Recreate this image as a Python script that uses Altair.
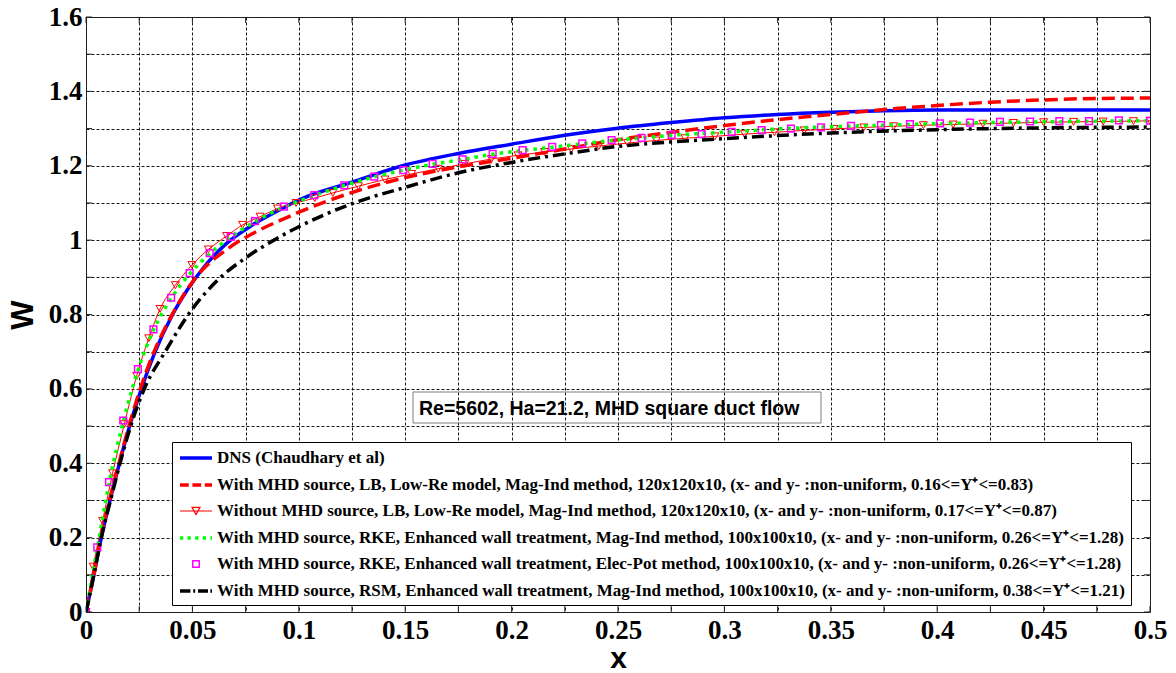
import altair as alt
import pandas as pd

# ---------------- data ----------------
dns_x = [0, 0.0037, 0.0072, 0.0113, 0.0157, 0.0205, 0.026, 0.0325, 0.0407, 0.0475, 0.0548,
         0.0658, 0.0783, 0.0909, 0.1, 0.125, 0.15, 0.175, 0.2, 0.225, 0.25, 0.275, 0.3,
         0.325, 0.35, 0.375, 0.4, 0.45, 0.5]
dns_w = [0, 0.1, 0.2, 0.3, 0.4, 0.5, 0.6, 0.7, 0.8, 0.865, 0.923,
         0.99, 1.041, 1.081, 1.108, 1.156, 1.202, 1.233, 1.258, 1.282, 1.301, 1.316, 1.329,
         1.338, 1.344, 1.348, 1.35, 1.35, 1.35]

lb_x = [0, 0.0037, 0.007, 0.011, 0.0155, 0.0202, 0.0255, 0.032, 0.040, 0.0517, 0.0674,
        0.0815, 0.094, 0.1, 0.125, 0.15, 0.175, 0.2, 0.225, 0.25, 0.275, 0.3, 0.325,
        0.35, 0.375, 0.4, 0.425, 0.45, 0.475, 0.5]
lb_w = [0, 0.1, 0.2, 0.3, 0.4, 0.5, 0.6, 0.7, 0.795, 0.9, 0.98,
        1.027, 1.06, 1.075, 1.128, 1.168, 1.197, 1.22, 1.245, 1.27, 1.29, 1.308, 1.324,
        1.338, 1.351, 1.362, 1.371, 1.377, 1.381, 1.382]

nomhd_x = [0, 0.0034, 0.0078, 0.0125, 0.018, 0.0238, 0.0295, 0.0348, 0.042, 0.0498, 0.0575,
           0.0661, 0.0736, 0.0818, 0.09, 0.0987, 0.1075, 0.116, 0.128, 0.1405, 0.153, 0.1655,
           0.178, 0.1905, 0.203, 0.2155, 0.228, 0.241, 0.2545, 0.268, 0.2815, 0.2955, 0.3095,
           0.3235, 0.3375, 0.3515, 0.3655, 0.3795, 0.3935, 0.4075, 0.4215, 0.4358, 0.45,
           0.4641, 0.478, 0.4922, 0.5]
nomhd_w = [0, 0.122, 0.245, 0.373, 0.505, 0.635, 0.736, 0.815, 0.879, 0.933, 0.975,
           1.011, 1.041, 1.063, 1.085, 1.1, 1.113, 1.127, 1.145, 1.163, 1.178, 1.192,
           1.205, 1.218, 1.228, 1.237, 1.245, 1.253, 1.261, 1.268, 1.274, 1.279, 1.285,
           1.29, 1.295, 1.299, 1.303, 1.306, 1.309, 1.311, 1.313, 1.315, 1.317,
           1.318, 1.319, 1.32, 1.321]

rke_x = [0, 0.0053, 0.0108, 0.0175, 0.0244, 0.0317, 0.040, 0.0487, 0.0581, 0.068, 0.0794,
         0.093, 0.1073, 0.1214, 0.1355, 0.1491, 0.1629, 0.177, 0.1911, 0.2052, 0.2191,
         0.2332, 0.247, 0.2611, 0.2752, 0.3, 0.325, 0.35, 0.375, 0.4, 0.425, 0.45, 0.475, 0.5]
rke_w = [0, 0.172, 0.345, 0.512, 0.65, 0.758, 0.843, 0.909, 0.963, 1.008, 1.05,
         1.089, 1.12, 1.147, 1.17, 1.188, 1.204, 1.217, 1.231, 1.241, 1.25,
         1.259, 1.268, 1.275, 1.282, 1.29, 1.299, 1.305, 1.309, 1.313, 1.316, 1.318, 1.32, 1.321]

elec_x = [0, 0.0053, 0.0108, 0.0175, 0.0244, 0.0317, 0.040, 0.0487, 0.0581, 0.068, 0.0794,
          0.093, 0.1073, 0.1214, 0.1355, 0.1491, 0.1629, 0.177, 0.1911, 0.2052, 0.2191,
          0.2332, 0.247, 0.2611, 0.2752, 0.2893, 0.3034, 0.3175, 0.3313, 0.3454, 0.3595,
          0.3736, 0.3872, 0.4013, 0.4154, 0.4295, 0.4436, 0.4574, 0.4713, 0.4854, 0.5]
elec_w = [0, 0.174, 0.349, 0.515, 0.653, 0.76, 0.845, 0.911, 0.965, 1.009, 1.051,
          1.09, 1.121, 1.147, 1.171, 1.188, 1.205, 1.217, 1.232, 1.242, 1.251,
          1.26, 1.269, 1.275, 1.283, 1.285, 1.291, 1.296, 1.3, 1.303, 1.307,
          1.309, 1.312, 1.314, 1.316, 1.318, 1.319, 1.32, 1.32, 1.322, 1.321]

rsm_x = [0, 0.0037, 0.0072, 0.0115, 0.016, 0.021, 0.0274, 0.0372, 0.05, 0.0627, 0.0752,
         0.0877, 0.1, 0.125, 0.15, 0.175, 0.2, 0.225, 0.25, 0.275, 0.3, 0.35, 0.4, 0.45, 0.5]
rsm_w = [0, 0.1, 0.2, 0.3, 0.4, 0.5, 0.6, 0.7, 0.815, 0.897, 0.953,
         0.998, 1.036, 1.098, 1.142, 1.181, 1.209, 1.232, 1.252, 1.264, 1.273, 1.288, 1.297,
         1.302, 1.304]

series_names = [
    "DNS (Chaudhary et al)",
    "With MHD source, LB, Low-Re model, Mag-Ind method, 120x120x10, (x- and y- :non-uniform, 0.16<=Y\u207a<=0.83)",
    "Without MHD source, LB, Low-Re model, Mag-Ind method, 120x120x10, (x- and y- :non-uniform, 0.17<=Y\u207a<=0.87)",
    "With MHD source, RKE, Enhanced wall treatment, Mag-Ind method, 100x100x10, (x- and y- :non-uniform, 0.26<=Y\u207a<=1.28)",
    "With MHD source, RKE, Enhanced wall treatment, Elec-Pot method, 100x100x10, (x- and y- :non-uniform, 0.26<=Y\u207a<=1.28)",
    "With MHD source, RSM, Enhanced wall treatment, Mag-Ind method, 100x100x10, (x- and y- :non-uniform, 0.38<=Y\u207a<=1.21)",
]
annotation_text = ["Re=5602, Ha=21.2, MHD square duct flow"]

x_grid = [round(i * 0.025, 3) for i in range(21)]
y_grid = [round(i * 0.1, 1) for i in range(17)]

# ---------------- styling ----------------
BLUE, RED, GREEN, MAGENTA, BLACK = "#0000ff", "#ff0000", "#00ff00", "#ff00ff", "#000000"
W, H = 1064, 595
FRAME = "#262626"

X = alt.Scale(domain=[0, 0.5], nice=False, zero=False)
Y = alt.Scale(domain=[0, 1.6], nice=False, zero=False)

xaxis = alt.Axis(
    values=x_grid, title="x", grid=True, ticks=False, domain=False,
    labelExpr="abs(datum.value*20 - round(datum.value*20)) < 1e-6 ? format(datum.value, '~g') : ''",
    labelFont="Liberation Serif", labelFontWeight="bold", labelFontSize=27, labelColor="black",
    labelPadding=5, labelFlush=False, labelOverlap=False, labelBaseline="top",
    titleFont="Liberation Sans", titleFontSize=30, titleFontWeight="bold", titleColor="black",
    titleY=55, titleBaseline="alphabetic",
    gridColor="#1a1a1a", gridDash=[3, 2], gridWidth=1, gridOpacity=1,
)
yaxis = alt.Axis(
    values=y_grid, title="W", grid=True, ticks=False, domain=False,
    labelExpr="abs(datum.value*5 - round(datum.value*5)) < 1e-6 ? format(datum.value, '~g') : ''",
    labelFont="Liberation Serif", labelFontWeight="bold", labelFontSize=27, labelColor="black",
    labelPadding=4, labelFlush=False, labelOverlap=False,
    titleFont="Liberation Sans", titleFontSize=31, titleFontWeight="bold", titleColor="black",
    titleX=-54, titleBaseline="alphabetic", titleAngle=270,
    gridColor="#1a1a1a", gridDash=[3, 2], gridWidth=1, gridOpacity=1,
)

def enc(chart):
    return chart.encode(x=alt.X("x:Q", scale=X, axis=xaxis), y=alt.Y("W:Q", scale=Y, axis=yaxis))

def line(xs, ws, **kw):
    df = pd.DataFrame({"x": xs, "W": ws})
    return enc(alt.Chart(df).mark_line(interpolate="monotone", clip=True, **kw))

def points(xs, ws, **kw):
    df = pd.DataFrame({"x": xs, "W": ws})
    return enc(alt.Chart(df).mark_point(clip=True, opacity=1, filled=False, **kw))

dns = line(dns_x, dns_w, color=BLUE, strokeWidth=3.5)
lb = line(lb_x, lb_w, color=RED, strokeWidth=3.5, strokeDash=[13, 6])
nomhd_l = line(nomhd_x, nomhd_w, color=RED, strokeWidth=1)
nomhd_p = points(nomhd_x, nomhd_w, shape="triangle-down", color=RED, size=64, strokeWidth=1)
rke = line(rke_x, rke_w, color=GREEN, strokeWidth=3.5, strokeDash=[3.5, 5])
elec = points(elec_x, elec_w, shape="square", color=MAGENTA, size=45, strokeWidth=1.5)
rsm = line(rsm_x, rsm_w, color=BLACK, strokeWidth=3.5, strokeDash=[12, 5, 3, 5])

# inward ticks on the box
xt = pd.DataFrame({"x": x_grid})
yt = pd.DataFrame({"W": y_grid})
tick_b = alt.Chart(xt).mark_rule(color=FRAME, strokeWidth=1).encode(
    x=alt.X("x:Q", scale=X, axis=xaxis), y=alt.value(H), y2=alt.value(H - 6))
tick_t = alt.Chart(xt).mark_rule(color=FRAME, strokeWidth=1).encode(
    x=alt.X("x:Q", scale=X, axis=xaxis), y=alt.value(0), y2=alt.value(6))
tick_l = alt.Chart(yt).mark_rule(color=FRAME, strokeWidth=1).encode(
    y=alt.Y("W:Q", scale=Y, axis=yaxis), x=alt.value(0), x2=alt.value(6))
tick_r = alt.Chart(yt).mark_rule(color=FRAME, strokeWidth=1).encode(
    y=alt.Y("W:Q", scale=Y, axis=yaxis), x=alt.value(W), x2=alt.value(W - 6))

# annotation box
ann_df = pd.DataFrame({"t": annotation_text})
ann_box = alt.Chart(ann_df).mark_rect(fill=None, stroke="#7f7f7f", strokeWidth=1).encode(
    x=alt.value(327), x2=alt.value(735), y=alt.value(375), y2=alt.value(406))
ann_txt = alt.Chart(ann_df).mark_text(
    align="left", baseline="alphabetic", font="Liberation Sans", fontSize=19.5,
    fontWeight="bold", color="black").encode(
    x=alt.value(333), y=alt.value(398), text="t:N")

# legend
sym_paths = [
    "M-2,0L2,0",
    "M-2,0L-0.9,0M-0.45,0L0.65,0M1.1,0L2,0",
    "M-2,0L2,0M-0.5,-0.45L0.5,-0.45L0,0.45Z",
    "M-2,0L-1.6,0M-1.05,0L-0.65,0M-0.1,0L0.3,0M0.85,0L1.25,0M1.8,0L2,0",
    "M-0.4,-0.4L0.4,-0.4L0.4,0.4L-0.4,0.4Z",
    "M-2,0L-0.7,0M-0.35,0L-0.1,0M0.25,0L1.5,0M1.8,0L2,0",
]
sym_colors = [BLUE, RED, RED, GREEN, MAGENTA, BLACK]
sym_widths = [3.5, 3.5, 1.2, 3.5, 1.5, 3.5]

leg = alt.Legend(
    title=None, orient="none", legendX=86, legendY=425, padding=6,
    fillColor="white", strokeColor="black", symbolSize=256, symbolOffset=8,
    labelOffset=11, rowPadding=9, labelFont="Liberation Serif", labelFontWeight="bold",
    labelFontSize=17, labelColor="black", labelLimit=3000,
)
leg_df = pd.DataFrame({"series": series_names})
legend_layer = alt.Chart(leg_df).mark_point(filled=False, opacity=1, size=256).encode(
    x=alt.value(-400), y=alt.value(-400),
    color=alt.Color("series:N", scale=alt.Scale(domain=series_names, range=sym_colors), legend=leg),
    shape=alt.Shape("series:N", scale=alt.Scale(domain=series_names, range=sym_paths), legend=leg),
    strokeWidth=alt.StrokeWidth("series:N", scale=alt.Scale(type="ordinal", domain=series_names, range=sym_widths), legend=leg),
)

chart = alt.layer(
    dns, lb, nomhd_l, nomhd_p, rke, elec, rsm,
    tick_b, tick_t, tick_l, tick_r, ann_box, ann_txt, legend_layer,
).properties(
    width=W, height=H,
    autosize=alt.AutoSizeParams(type="none"),
    padding={"left": 86, "top": 17, "right": 26, "bottom": 61},
    background="white",
).configure_view(stroke=FRAME, strokeWidth=1)

chart.save("out.html", embed_options={"renderer": "svg", "actions": False})
